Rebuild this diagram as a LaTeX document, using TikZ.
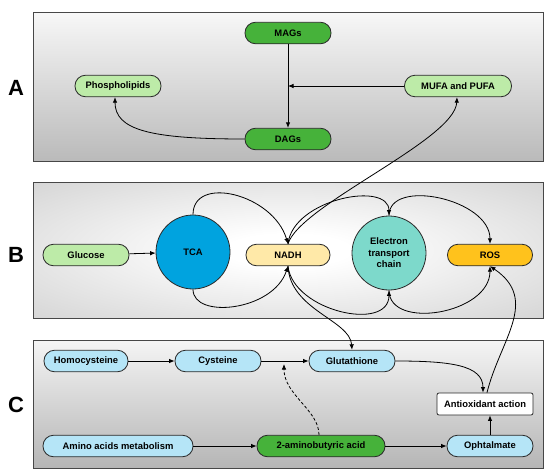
\documentclass[tikz,border=0pt]{standalone}
\usepackage{fontspec}
\setmainfont{Liberation Sans}
\usetikzlibrary{arrows.meta}
\definecolor{dkgreen}{HTML}{46B23A}
\definecolor{ltgreen}{HTML}{BDEBA8}
\definecolor{tcablue}{HTML}{00A3DF}
\definecolor{nadhyel}{HTML}{FFE9A8}
\definecolor{etcteal}{HTML}{7DD9CB}
\definecolor{rosor}{HTML}{FFC21C}
\definecolor{ltblue}{HTML}{B5E5F7}
\definecolor{edge}{HTML}{2A2A2A}
\pgfdeclareradialshading{panelB}{\pgfpoint{0bp}{0bp}}{color(0bp)=(white); color(6bp)=(white); color(50bp)=(black!24); color(71bp)=(black!34)}
\begin{document}
\begin{tikzpicture}[x=1pt,y=-1pt,
  every node/.style={font=\fontsize{9.4}{11.5}\selectfont\bfseries},
  pill/.style={draw=edge, line width=0.8pt, rounded corners=10.5pt, minimum height=21.5pt, inner sep=1pt},
  circ/.style={draw=edge, line width=0.8pt, circle, minimum size=74pt, inner sep=0pt, align=center},
  panel/.style={draw=black!72, line width=1pt},
  arr/.style={-{Latex[length=5.5pt,width=4.5pt]}, line width=0.8pt},
  lbl/.style={font=\fontsize{22}{24}\selectfont\bfseries}
]
\useasboundingbox (0,0) rectangle (550,474);
% panels
\draw[panel, top color=black!3, bottom color=black!27] (33,12) rectangle (543,161);
\draw[panel, shading=panelB] (33,182) rectangle (543,318);
\draw[panel, top color=black!4, bottom color=black!29] (33,340) rectangle (543,468);
\node[lbl] (LA) at (16,88) {A};
\node[lbl] (LB) at (16,255) {B};
\node[lbl] (LC) at (16,405) {C};
% panel A
\node[pill, fill=dkgreen, minimum width=86pt] (mags) at (288,33) {MAGs};
\node[pill, fill=ltgreen, minimum width=86pt] (phos) at (118,86) {Phospholipids};
\node[pill, fill=ltgreen, minimum width=107pt] (mufa) at (458,86) {MUFA and PUFA};
\node[pill, fill=dkgreen, minimum width=86pt] (dags) at (288,139) {DAGs};
\coordinate (jA) at (288,86);
\draw[arr] (mags) -- (dags);
\draw[arr] (mufa) -- (jA);
\draw[arr] (dags.west) .. controls (150,139) and (115,130) .. ([xshift=-3pt]phos.south);
% panel B
\node[pill, fill=ltgreen, minimum width=86pt] (glu) at (86,255) {Glucose};
\node[circ, fill=tcablue] (tca) at (193,252) {TCA};
\node[pill, fill=nadhyel, minimum width=84pt] (nadh) at (288,255) {NADH};
\node[circ, fill=etcteal] (etc) at (389,253) {Electron\\transport\\chain};
\node[pill, fill=rosor, minimum width=85pt] (ros) at (490,255) {ROS};
\draw[arr] (glu) -- (tca);
\draw[arr] (tca.north) .. controls +(0,-40) and +(-15,-50) .. (nadh.north);
\draw[arr] (tca.south) .. controls +(0,30) and +(-15,45) .. (nadh.south);
\draw[arr] (nadh.north) .. controls +(5,-45) and +(0,-35) .. (etc.north);
\draw[arr] (nadh.south) .. controls +(5,45) and +(0,42) .. (etc.south);
\draw[arr] (etc.north) .. controls +(0,-38) and +(0,-45) .. (ros.north);
\draw[arr] (etc.south) .. controls +(0,40) and +(0,48) .. (ros.south);
\draw[arr] (nadh.north) .. controls (300,205) and (455,140) .. ([xshift=-1pt]mufa.south);
% panel C
\node[pill, fill=ltblue, minimum width=84pt] (homo) at (86,361) {Homocysteine};
\node[pill, fill=ltblue, minimum width=86pt] (cys) at (218,361) {Cysteine};
\node[pill, fill=ltblue, minimum width=86pt] (glut) at (352,361) {Glutathione};
\node[draw=edge, line width=0.8pt, fill=white, rounded corners=2pt, minimum width=96pt, minimum height=22pt] (anti) at (485,404) {Antioxidant action};
\node[pill, fill=ltblue, minimum width=150pt] (amino) at (118,446) {Amino acids metabolism};
\node[pill, fill=dkgreen, minimum width=128pt] (abu) at (321,446) {2-aminobutyric acid};
\node[pill, fill=ltblue, minimum width=86pt] (oph) at (490,446) {Ophtalmate};
\coordinate (jC) at (284,364);
\draw[arr] (nadh.south) .. controls (290,310) and (350,320) .. (glut.north);
\draw[arr] (homo) -- (cys);
\draw[arr] (cys) -- (glut);
\draw[arr, dash pattern=on 3pt off 2pt] ([xshift=-2pt]abu.north) .. controls (319,410) and (284,395) .. (jC);
\draw[arr] (glut.east) .. controls (450,361) and (483,365) .. ([xshift=-2pt]anti.north);
\draw[arr] ([xshift=2pt]anti.north) .. controls (500,340) and (540,300) .. (ros.south);
\draw[arr] (oph.north) -- (oph.north |- anti.south);
\draw[arr] (amino) -- (abu);
\draw[arr] (abu) -- (oph);
\end{tikzpicture}
\end{document}
